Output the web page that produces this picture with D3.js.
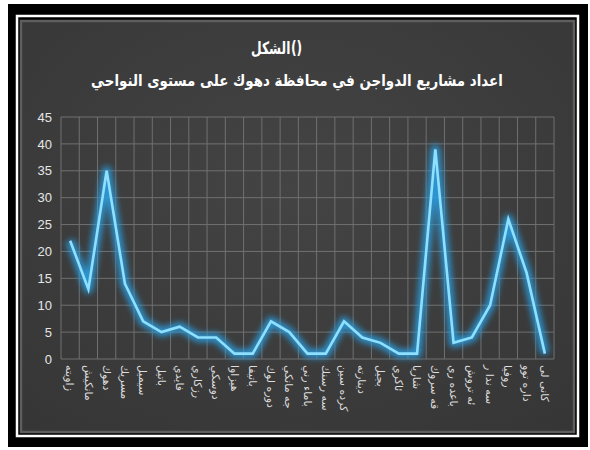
<!DOCTYPE html>
<html><head><meta charset="utf-8">
<script src="https://cdn.jsdelivr.net/npm/d3@7"></script>
<style>html,body{margin:0;padding:0;background:#fff;}svg{display:block;}</style>
</head><body>
<script>
const categories = ["زاويته","مانكيش","دهوك","مسريك","سيميل","باتيل","فايدي","رزكاري","دوسكي","هيزاوا","باتيفا","دوره لوك","جه مانكي","باماء رني","سه رسنك","كرده سين","دينارته","بجيل","ئاكري","شاريا","قه سروك","باعده ري","ئه تروش","سه ندا ر","روفيا","داره توو","كانى لى"];
const values = [22,13,35,14,7,5,6,4,4,1,1,7,5,1,1,7,4,3,1,1,39,3,4,10,26,16,1];
const yTicks = [0,5,10,15,20,25,30,35,40,45];
const titleLines = ["الشكل()","اعداد مشاريع الدواجن في محافظة دهوك على مستوى النواحي"];

const W = 590, H = 450;
const svg = d3.select("body").append("svg").attr("width", W).attr("height", H);

// frame
svg.append("rect").attr("x",8).attr("y",4).attr("width",580).attr("height",443).attr("fill","#000");
svg.append("rect").attr("x",17).attr("y",16).attr("width",561).attr("height",420).attr("fill","none").attr("stroke","#fff").attr("stroke-width",2.5);
const defs = svg.append("defs");
const grad = defs.append("radialGradient").attr("id","bg").attr("cx","50%").attr("cy","40%").attr("r","75%");
grad.append("stop").attr("offset","0%").attr("stop-color","#444");
grad.append("stop").attr("offset","100%").attr("stop-color","#363636");
svg.append("rect").attr("x",21).attr("y",21).attr("width",553).attr("height",411).attr("fill","url(#bg)").attr("stroke","#5e5e5e").attr("stroke-width",2.5);

const glow = defs.append("filter").attr("id","glow").attr("x","-10%").attr("y","-10%").attr("width","120%").attr("height","120%");
glow.append("feGaussianBlur").attr("stdDeviation",3.2);

const x = d3.scaleBand().domain(categories).range([61,554]).padding(0);
const y = d3.scaleLinear().domain([0,45]).range([359,117]);

// grid
const g = svg.append("g");
g.selectAll(".hg").data(yTicks).join("line")
  .attr("x1",61).attr("x2",554).attr("y1",d=>y(d)).attr("y2",d=>y(d))
  .attr("stroke","#707070").attr("stroke-width",1);
const bounds = categories.map(c=>x(c)).concat([x.range()[1]]);
g.selectAll(".vg").data(bounds).join("line")
  .attr("x1",d=>d).attr("x2",d=>d).attr("y1",y(45)).attr("y2",y(0))
  .attr("stroke","#707070").attr("stroke-width",1);

// y axis
const yAxis = d3.axisLeft(y).tickValues(yTicks).tickSize(0).tickPadding(8);
const ya = svg.append("g").attr("transform","translate(52,0)").call(yAxis);
ya.select(".domain").remove();
ya.selectAll("text").attr("fill","#e6e6e6").attr("font-family","Liberation Sans, Arial, sans-serif").attr("font-size",13).attr("x",0);

// x axis
const xAxis = d3.axisBottom(x).tickSize(0).tickPadding(0);
const xa = svg.append("g").attr("transform","translate(0,365)").call(xAxis);
xa.select(".domain").remove();
xa.selectAll("text").attr("fill","#dcdcdc").attr("font-family","DejaVu Sans, sans-serif").attr("font-size",11)
  .attr("text-anchor","start").attr("dy","0.35em").attr("y",0)
  .attr("transform","rotate(90)");

// line
const line = d3.line().x((d,i)=>x(categories[i])+x.bandwidth()/2).y(d=>y(d));
svg.append("path").datum(values).attr("d",line).attr("fill","none")
  .attr("stroke","#2a9ee0").attr("stroke-width",9).attr("stroke-linejoin","round").attr("opacity",0.9).attr("filter","url(#glow)");
svg.append("path").datum(values).attr("d",line).attr("fill","none")
  .attr("stroke","#8fe0ff").attr("stroke-width",2.6).attr("stroke-linejoin","miter");

// title line 1: Arabic word with the parentheses kept on its right, as in the reference
const t1word = titleLines[0].replace("()", "");
const t1paren = titleLines[0].replace(t1word, "");
const tf = {family:"DejaVu Sans, sans-serif", size:17};
const t1 = svg.append("g").attr("transform","translate(286,54) scale(0.72,1)");
t1.append("text").attr("x",6).attr("y",0).attr("text-anchor","end").attr("fill","#fff")
  .attr("font-family",tf.family).attr("font-weight","bold").attr("font-size",tf.size).text(t1word);
t1.append("text").attr("x",7).attr("y",0).attr("text-anchor","start").attr("fill","#fff")
  .attr("font-family",tf.family).attr("font-weight","bold").attr("font-size",tf.size).text(t1paren);
// title line 2
svg.append("g").attr("transform","translate(297,86) scale(0.84,1)")
  .append("text").attr("x",0).attr("y",0).attr("text-anchor","middle").attr("fill","#fff")
  .attr("font-family",tf.family).attr("font-weight","bold").attr("font-size",16).text(titleLines[1]);
</script>
</body></html>
